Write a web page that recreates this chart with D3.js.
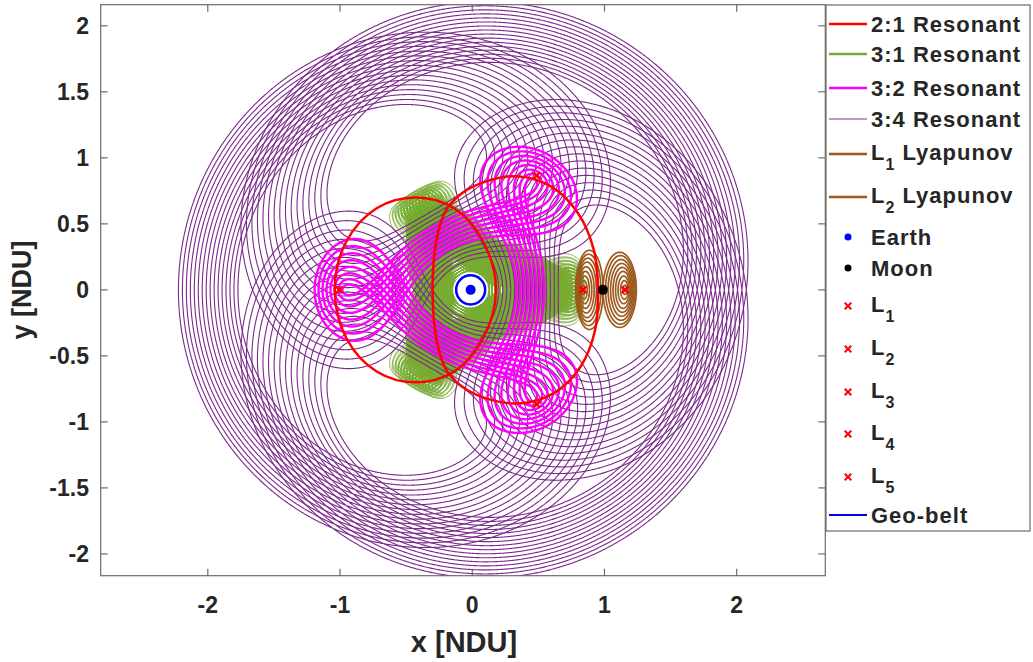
<!DOCTYPE html>
<html>
<head>
<meta charset="utf-8">
<script src="https://cdn.jsdelivr.net/npm/d3@7"></script>
<style>
  body { margin: 0; background: #fff; }
  text { font-family: "Liberation Sans", Arial, sans-serif; font-weight: bold; fill: #262626; }
</style>
</head>
<body>
<div id="chart"></div>
<script>
// ---- data (non-dimensional Earth-Moon rotating frame) ----
const xTicks = [-2, -1, 0, 1, 2];
const yTicks = [-2, -1.5, -1, -0.5, 0, 0.5, 1, 1.5, 2];

const earth = [-0.01215, 0];
const moon = [0.98785, 0];
const lagrangeX = [0.8369, 1.1557, -1.0051, 0.4878, 0.4878];
const lagrangeY = [0, 0, 0, 0.8660, -0.8660];
const geoRadius = 0.1097;

// resonant orbit families: apoapsis radius of each member, rotation (deg)
const res31Apo = [0.64, 0.66, 0.68, 0.70, 0.72, 0.74, 0.76, 0.78, 0.80, 0.82, 0.84, 0.86];
const res31Rot = [-12, -10, -8, -6, -4, -2, 0, 2, 4, 6, 8, 10, 12];
const res32Apo = [0.97, 1.00, 1.03, 1.06, 1.09, 1.12, 1.15, 1.18];
const res32Rot = [0];
const res34Apo = [1.76, 1.79, 1.82, 1.85, 1.88, 1.91, 1.94, 1.97, 2.00, 2.03, 2.06, 2.09, 2.12, 2.15, 2.18, 2.21];
const res34Rot = [0];

// 2:1 resonant, traced loops
const res21LeftX = [-1.04, -0.95, -0.72, -0.43, -0.14, 0.08, 0.18, 0.08, -0.14, -0.43, -0.72, -0.95];
const res21LeftY = [0, 0.37, 0.62, 0.70, 0.62, 0.37, 0, -0.37, -0.62, -0.70, -0.62, -0.37];
const res21RightX = [0.95, 0.92, 0.80, 0.60, 0.34, 0.10, -0.08, -0.20, -0.27, -0.30, -0.27, -0.20, -0.08, 0.10, 0.36, 0.62, 0.82, 0.93];
const res21RightY = [0, 0.30, 0.58, 0.78, 0.86, 0.82, 0.73, 0.60, 0.38, 0, -0.38, -0.60, -0.73, -0.82, -0.86, -0.78, -0.58, -0.30];

// Lyapunov orbits: centre, half width, half height
const lyapL1Cx = [0.840, 0.845, 0.850, 0.856, 0.862, 0.868, 0.874, 0.880, 0.886];
const lyapL1Ax = [0.012, 0.024, 0.036, 0.048, 0.060, 0.071, 0.082, 0.093, 0.104];
const lyapL1Ay = [0.035, 0.07, 0.105, 0.14, 0.175, 0.21, 0.24, 0.27, 0.30];
const lyapL2Cx = [1.154, 1.150, 1.145, 1.140, 1.135, 1.130, 1.125, 1.120, 1.115];
const lyapL2Ax = [0.014, 0.028, 0.042, 0.056, 0.070, 0.084, 0.098, 0.112, 0.126];
const lyapL2Ay = [0.035, 0.07, 0.105, 0.14, 0.17, 0.20, 0.23, 0.26, 0.285];

// ---- layout ----
const width = 1033, height = 662;
const svg = d3.select("#chart").append("svg")
  .attr("width", width).attr("height", height);

const x = d3.scaleLinear().domain([-2.81, 2.67]).range([100.7, 825.3]);
const y = d3.scaleLinear().domain([-2.165, 2.16]).range([575.7, 4.7]);

svg.append("clipPath").attr("id", "clip").append("rect")
  .attr("x", x.range()[0]).attr("y", y.range()[1])
  .attr("width", x.range()[1] - x.range()[0])
  .attr("height", y.range()[0] - y.range()[1]);

const plot = svg.append("g").attr("clip-path", "url(#clip)");
const line = d3.line().x(d => x(d[0])).y(d => y(d[1]));

// Kepler orbit around Earth seen in the rotating frame, p:q resonance
function resonantOrbit(p, q, apo, apoDirDeg) {
  const n = p / q, a = Math.pow(n, -2 / 3), e = apo / a - 1;
  const T = 2 * Math.PI * q, N = 1400 * q;
  const alpha = apoDirDeg * Math.PI / 180;
  const pts = [];
  for (let i = 0; i <= N; i++) {
    const t = T * i / N;
    const M = Math.PI + n * t;
    let E = M;
    for (let k = 0; k < 12; k++) E -= (E - e * Math.sin(E) - M) / (1 - e * Math.cos(E));
    const nu = 2 * Math.atan2(Math.sqrt(1 + e) * Math.sin(E / 2), Math.sqrt(1 - e) * Math.cos(E / 2));
    const r = a * (1 - e * Math.cos(E));
    const ang = alpha + Math.PI + nu - t;
    pts.push([earth[0] + r * Math.cos(ang), earth[1] + r * Math.sin(ang)]);
  }
  return pts;
}

function drawFamily(p, q, apoList, rotList, baseDir, color, w) {
  const g = plot.append("g");
  rotList.forEach(rot => apoList.forEach(apo => {
    g.append("path")
      .attr("d", line(resonantOrbit(p, q, apo, baseDir + rot)))
      .attr("fill", "none").attr("stroke", color).attr("stroke-width", w);
  }));
}

function ellipse(cx, ax, ay) {
  return d3.range(0, 361, 3).map(t => [cx + ax * Math.cos(t * Math.PI / 180), ay * Math.sin(t * Math.PI / 180)]);
}

drawFamily(3, 1, res31Apo, res31Rot, 0, "#77AC30", 1);
drawFamily(3, 4, res34Apo, res34Rot, 180, "#7A2A8A", 1.1);
drawFamily(3, 2, res32Apo, res32Rot, 180, "#FF00FF", 2.4);

lyapL1Ax.forEach((ax, i) => plot.append("path")
  .attr("d", line(ellipse(lyapL1Cx[i], ax, lyapL1Ay[i])))
  .attr("fill", "none").attr("stroke", "#9C5A1E").attr("stroke-width", 1.7));
lyapL2Ax.forEach((ax, i) => plot.append("path")
  .attr("d", line(ellipse(lyapL2Cx[i], ax, lyapL2Ay[i])))
  .attr("fill", "none").attr("stroke", "#9C5A1E").attr("stroke-width", 1.7));

const loop = d3.line().x(d => x(d[0])).y(d => y(d[1])).curve(d3.curveCatmullRomClosed);
plot.append("path").attr("d", loop(res21LeftX.map((v, i) => [v, res21LeftY[i]])))
  .attr("fill", "none").attr("stroke", "#FF0000").attr("stroke-width", 2.5);
plot.append("path").attr("d", loop(res21RightX.map((v, i) => [v, res21RightY[i]])))
  .attr("fill", "none").attr("stroke", "#FF0000").attr("stroke-width", 2.5);

// geo belt, bodies, libration points
plot.append("circle").attr("cx", x(earth[0])).attr("cy", y(earth[1]))
  .attr("r", x(geoRadius) - x(0) + 3).attr("fill", "#fff");
plot.append("circle").attr("cx", x(earth[0])).attr("cy", y(earth[1]))
  .attr("r", x(geoRadius) - x(0)).attr("fill", "none").attr("stroke", "#0000FF").attr("stroke-width", 2.5);
plot.append("circle").attr("cx", x(earth[0])).attr("cy", y(earth[1])).attr("r", 5).attr("fill", "#0000FF");
plot.append("circle").attr("cx", x(moon[0])).attr("cy", y(moon[1])).attr("r", 5).attr("fill", "#000");

const cross = d3.symbol().type(d3.symbolX).size(30);
lagrangeX.forEach((lx, i) => plot.append("path").attr("d", cross)
  .attr("transform", `translate(${x(lx)},${y(lagrangeY[i])})`)
  .attr("fill", "none").attr("stroke", "#FF0000").attr("stroke-width", 2.4));

// ---- axes box ----
const frame = svg.append("g");
frame.append("rect").attr("x", x.range()[0]).attr("y", y.range()[1])
  .attr("width", x.range()[1] - x.range()[0]).attr("height", y.range()[0] - y.range()[1])
  .attr("fill", "none").attr("stroke", "#6b6b6b").attr("stroke-width", 1.2);

const tickLen = 7;
xTicks.forEach(t => {
  frame.append("line").attr("x1", x(t)).attr("x2", x(t)).attr("y1", y.range()[0]).attr("y2", y.range()[0] - tickLen)
    .attr("stroke", "#6b6b6b").attr("stroke-width", 1.2);
  frame.append("line").attr("x1", x(t)).attr("x2", x(t)).attr("y1", y.range()[1]).attr("y2", y.range()[1] + tickLen)
    .attr("stroke", "#6b6b6b").attr("stroke-width", 1.2);
  frame.append("text").attr("x", x(t)).attr("y", 613).attr("text-anchor", "middle")
    .attr("font-size", 23).text(t);
});
yTicks.forEach(t => {
  frame.append("line").attr("y1", y(t)).attr("y2", y(t)).attr("x1", x.range()[0]).attr("x2", x.range()[0] + tickLen)
    .attr("stroke", "#6b6b6b").attr("stroke-width", 1.2);
  frame.append("line").attr("y1", y(t)).attr("y2", y(t)).attr("x1", x.range()[1]).attr("x2", x.range()[1] - tickLen)
    .attr("stroke", "#6b6b6b").attr("stroke-width", 1.2);
  frame.append("text").attr("x", 89).attr("y", y(t) + 8).attr("text-anchor", "end")
    .attr("font-size", 23).text(t);
});

frame.append("text").attr("x", 464).attr("y", 652).attr("text-anchor", "middle")
  .attr("font-size", 29).text("x [NDU]");
frame.append("text").attr("transform", "translate(31,290) rotate(-90)").attr("text-anchor", "middle")
  .attr("font-size", 27).text("y [NDU]");

// ---- legend ----
const legend = svg.append("g");
legend.append("rect").attr("x", 826).attr("y", 5).attr("width", 204).attr("height", 526)
  .attr("fill", "#fff").attr("stroke", "#6b6b6b").attr("stroke-width", 1.2);

const legendItems = [
  { label: "2:1 Resonant", type: "line", color: "#FF0000", w: 2.5, y: 24 },
  { label: "3:1 Resonant", type: "line", color: "#77AC30", w: 2.5, y: 54 },
  { label: "3:2 Resonant", type: "line", color: "#FF00FF", w: 2.5, y: 88 },
  { label: "3:4 Resonant", type: "line", color: "#7E2F8E", w: 1, y: 119 },
  { label: "L", sub: "1", rest: " Lyapunov", type: "line", color: "#9C5A1E", w: 2.5, y: 154 },
  { label: "L", sub: "2", rest: " Lyapunov", type: "line", color: "#9C5A1E", w: 2.5, y: 197 },
  { label: "Earth", type: "dot", color: "#0000FF", y: 237 },
  { label: "Moon", type: "dot", color: "#000", y: 268 },
  { label: "L", sub: "1", type: "x", y: 306 },
  { label: "L", sub: "2", type: "x", y: 349 },
  { label: "L", sub: "3", type: "x", y: 392 },
  { label: "L", sub: "4", type: "x", y: 434 },
  { label: "L", sub: "5", type: "x", y: 477 },
  { label: "Geo-belt", type: "line", color: "#0000FF", w: 2, y: 515 }
];

legendItems.forEach(d => {
  if (d.type === "line") {
    legend.append("line").attr("x1", 829).attr("x2", 867).attr("y1", d.y).attr("y2", d.y)
      .attr("stroke", d.color).attr("stroke-width", d.w);
  } else if (d.type === "dot") {
    legend.append("circle").attr("cx", 848).attr("cy", d.y).attr("r", 3.5).attr("fill", d.color);
  } else {
    legend.append("path").attr("d", cross).attr("transform", `translate(848,${d.y})`)
      .attr("fill", "none").attr("stroke", "#FF0000").attr("stroke-width", 2);
  }
  const ty = d.sub ? d.y + 6 : d.y + 8;
  const txt = legend.append("text").attr("x", 871).attr("y", ty).attr("font-size", 22)
    .attr("letter-spacing", 1).attr("fill", "#000");
  txt.append("tspan").text(d.label);
  if (d.sub) {
    txt.append("tspan").attr("font-size", 16).attr("dy", 10).text(d.sub);
    if (d.rest) txt.append("tspan").attr("dy", -10).text(d.rest);
  }
});
</script>
</body>
</html>
